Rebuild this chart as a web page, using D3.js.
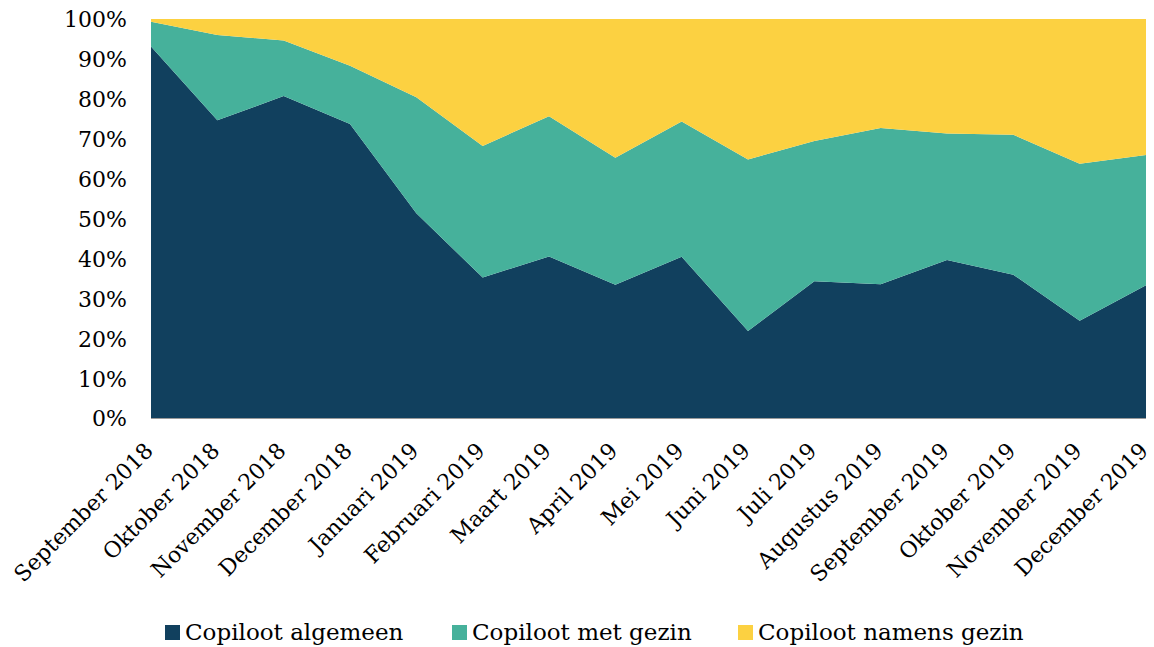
<!DOCTYPE html>
<html><head><meta charset="utf-8">
<script src="https://cdn.jsdelivr.net/npm/d3@7"></script>
<style>body{margin:0;background:#fff}svg{display:block}text{font-family:"DejaVu Serif",Georgia,serif;fill:#000}</style>
</head><body><svg id="c" width="1154" height="647"></svg>
<script>
const categories = ["September 2018","Oktober 2018","November 2018","December 2018","Januari 2019","Februari 2019","Maart 2019","April 2019","Mei 2019","Juni 2019","Juli 2019","Augustus 2019","September 2019","Oktober 2019","November 2019","December 2019"];
const seriesNames = ["Copiloot algemeen","Copiloot met gezin","Copiloot namens gezin"];
const algemeen = [93.1,74.6,80.7,73.7,51.3,35.2,40.5,33.4,40.4,21.8,34.3,33.5,39.6,35.9,24.4,33.3];
const metGezin = [6.2,21.4,13.9,14.6,29.1,33.0,35.1,31.8,33.9,43.0,35.1,39.2,31.7,35.1,39.3,32.6];
const namensGezin = [0.7,4.0,5.4,11.7,19.6,31.8,24.4,34.8,25.7,35.2,30.6,27.3,28.7,29.0,36.3,34.1];
const yTicks = [0,10,20,30,40,50,60,70,80,90,100];
const colors = ["#11405E","#46B19B","#FCD141"];

(function(){
const svg = d3.select("#c");
const mLeft = 151, mRight = 1146, mTop = 19, mBottom = 418;
const x = d3.scalePoint().domain(categories).range([mLeft, mRight]);
const y = d3.scaleLinear().domain([0,100]).range([mBottom, mTop]);

const rows = categories.map((c,i)=>({cat:c, a:algemeen[i], m:metGezin[i], n:namensGezin[i]}));
rows.forEach(r=>{const s=r.a+r.m+r.n; r.a=r.a/s*100; r.m=r.m/s*100; r.n=r.n/s*100;});
const layers = d3.stack().keys(["a","m","n"])(rows);
const area = d3.area().x(d=>x(d.data.cat)).y0(d=>y(d[0])).y1(d=>y(d[1]));
svg.append("g").selectAll("path").data(layers).join("path")
  .attr("d", area).attr("fill",(d,i)=>colors[i]);

svg.append("line").attr("x1",mLeft).attr("x2",mRight).attr("y1",mBottom+0.5).attr("y2",mBottom+0.5)
  .attr("stroke","#9a9a9a").attr("stroke-width",1);

const ya = svg.append("g").attr("transform",`translate(${mLeft},0)`)
  .call(d3.axisLeft(y).tickValues(yTicks).tickFormat(d=>d+"%").tickSize(0).tickPadding(24));
ya.select(".domain").remove();
ya.selectAll("text").style("font-size","22px").attr("dy","0.36em");

const xa = svg.append("g").attr("transform",`translate(0,${mBottom})`)
  .call(d3.axisBottom(x).tickSize(0));
xa.select(".domain").remove();
xa.selectAll("text").style("font-size","22px")
  .attr("text-anchor","end").attr("dy","0")
  .attr("transform","translate(3,34) rotate(-45)").attr("y",0).attr("x",0);

const legX = [165, 452, 738];
seriesNames.forEach((n,i)=>{
  const g = svg.append("g").attr("transform",`translate(${legX[i]},0)`);
  g.append("rect").attr("x",0).attr("y",625).attr("width",15).attr("height",15).attr("fill",colors[i]);
  g.append("text").attr("x",20).attr("y",640).style("font-size","23px").text(n);
});
})();
</script></body></html>
